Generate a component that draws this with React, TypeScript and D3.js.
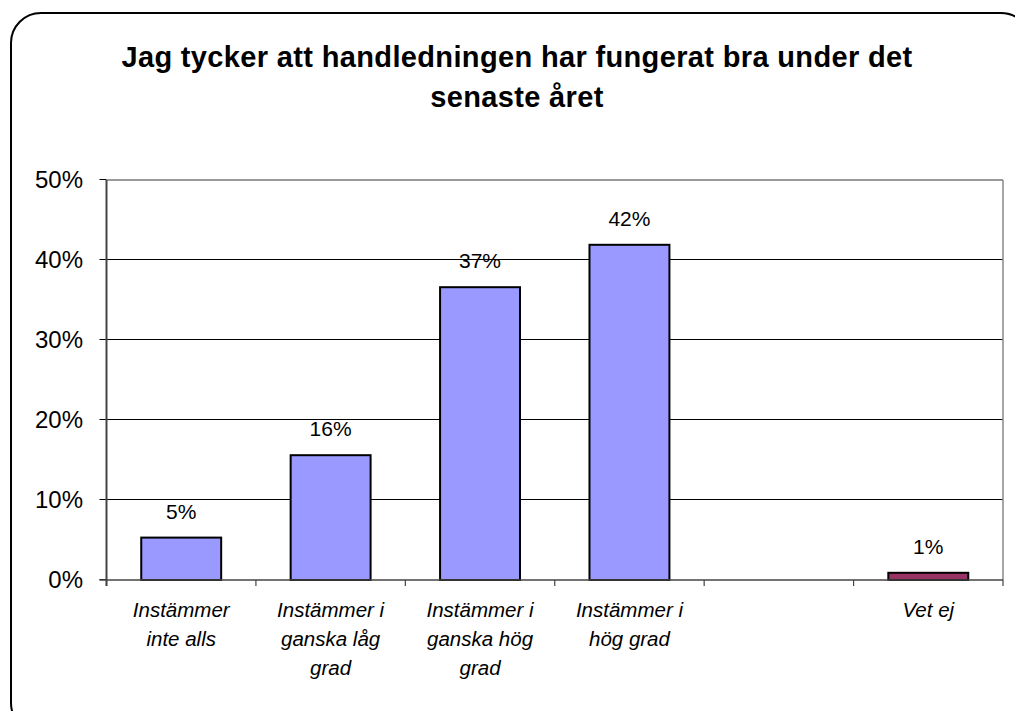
import React from "react";
import * as d3 from "d3";

const categories: string[][] = [
  ["Instämmer", "inte alls"],
  ["Instämmer i", "ganska låg", "grad"],
  ["Instämmer i", "ganska hög", "grad"],
  ["Instämmer i", "hög grad"],
  [],
  ["Vet ej"],
];
const values: (number | null)[] = [0.053, 0.156, 0.366, 0.419, null, 0.009];
const valueLabels: string[] = ["5%", "16%", "37%", "42%", "", "1%"];
const barColors: string[] = ["#9999FF", "#9999FF", "#9999FF", "#9999FF", "#9999FF", "#993366"];
const yTicks: number[] = [0, 0.1, 0.2, 0.3, 0.4, 0.5];
const titleLines: string[] = ["Jag tycker att handledningen har fungerat bra under det", "senaste året"];

export default function App() {
  const W = 1015, H = 711;
  const left = 106.5, right = 1003, top = 180, bottom = 580;
  const x = d3.scaleBand<number>().domain(d3.range(categories.length)).range([left, right]).paddingInner(0.465).paddingOuter(0.2325);
  const slot = d3.scaleBand<number>().domain(d3.range(categories.length)).range([left, right]);
  const y = d3.scaleLinear().domain([0, 0.5]).range([bottom, top]);
  const font = "Arial, 'Liberation Sans', sans-serif";
  return (
    <svg width={W} height={H} style={{ position: "absolute", left: 0, top: 0 }} fontFamily={font}>
      <rect x={0} y={0} width={W} height={H} fill="#fff" />
      <rect x={11} y={13} width={1020} height={720} rx={30} ry={30} fill="#fff" stroke="#000" strokeWidth={2} />
      {titleLines.map((t, i) => (
        <text key={i} x={517} y={67 + i * 40} textAnchor="middle" fontSize={29} fontWeight="bold" letterSpacing={0.35}>{t}</text>
      ))}
      {yTicks.map((t) => (
        <g key={t}>
          {t > 0 && t < 0.5 && <line x1={left} x2={right} y1={y(t) - 0.5} y2={y(t) - 0.5} stroke="#000" strokeWidth={1} />}
          <line x1={left - 7} x2={left} y1={y(t) - 0.5} y2={y(t) - 0.5} stroke="#000" strokeWidth={1} />
          <text x={83} y={y(t) + 8} textAnchor="end" fontSize={24}>{d3.format(".0%")(t)}</text>
        </g>
      ))}
      <line x1={left} x2={right} y1={top} y2={top} stroke="#999" strokeWidth={2} />
      <line x1={right} x2={right} y1={top} y2={bottom} stroke="#888" strokeWidth={1.5} />
      {values.map((v, i) =>
        v == null ? null : (
          <g key={i}>
            <rect x={x(i)} y={y(v)} width={x.bandwidth()} height={bottom - y(v)} fill={barColors[i]} stroke="#000" strokeWidth={2} />
            <text x={x(i)! + x.bandwidth() / 2} y={y(v) - 19} textAnchor="middle" fontSize={21}>{valueLabels[i]}</text>
          </g>
        )
      )}
      <line x1={left} x2={left} y1={top} y2={bottom + 6} stroke="#444" strokeWidth={2} />
      <line x1={left - 7} x2={right} y1={bottom} y2={bottom} stroke="#444" strokeWidth={1.5} />
      {d3.range(categories.length + 1).map((i) => {
        const xx = i < categories.length ? slot(i)! : right;
        return <line key={i} x1={xx} x2={xx} y1={bottom} y2={bottom + 6} stroke="#444" strokeWidth={1.2} />;
      })}
      {categories.map((lines, i) => (
        <text key={i} textAnchor="middle" fontSize={20.5} fontStyle="italic">
          {lines.map((l, j) => (
            <tspan key={j} x={slot(i)! + slot.bandwidth() / 2} y={617 + j * 29}>{l}</tspan>
          ))}
        </text>
      ))}
    </svg>
  );
}
